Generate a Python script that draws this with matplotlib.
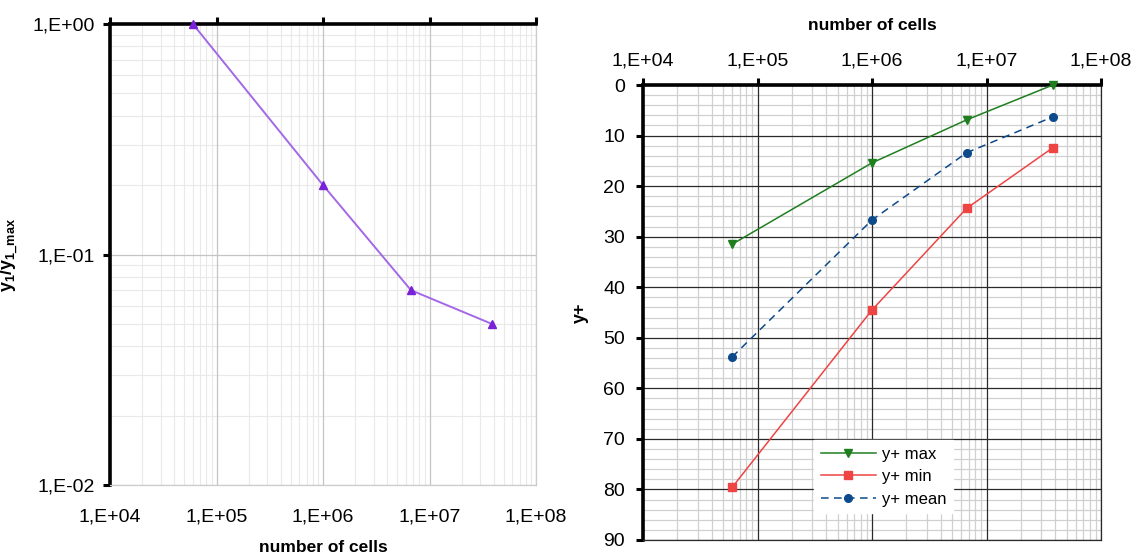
import numpy as np
import matplotlib
matplotlib.use("Agg")
import matplotlib.pyplot as plt
from matplotlib.ticker import LogLocator, FuncFormatter, MultipleLocator, NullFormatter

plt.rcParams["font.family"] = ["Liberation Sans", "DejaVu Sans"]
plt.rcParams["mathtext.fontset"] = "custom"
plt.rcParams["mathtext.bf"] = "Liberation Sans:bold"
plt.rcParams["mathtext.rm"] = "Liberation Sans"

# left panel: normalised first-cell height
cells_left = [6.0e4, 1.0e6, 6.7e6, 3.85e7]
y1_ratio = [1.0, 0.2, 0.07, 0.05]

# right panel: y+ values
cells_right = [6.0e4, 1.0e6, 6.7e6, 3.8e7]
yplus_max = [31.5, 15.4, 6.9, 0.0]
yplus_min = [79.6, 44.5, 24.4, 12.4]
yplus_mean = [53.8, 26.7, 13.4, 6.3]

_PURPLE_LINE = "#a468e6"
_PURPLE_MARK = "#7a22d8"
_GREEN = "#1f7f1f"
_RED = "#ee4444"
_BLUE = "#0d4a8c"


def excel_fmt(v, pos=None):
    if v <= 0:
        return ""
    return f"1,E{int(round(np.log10(v))):+03d}"


def major_grid(axis, color, lw):
    # major lines drawn on top of the minor grid so crossings stay solid
    for xv in axis.get_xticks():
        lo, hi = axis.get_xlim()
        if lo <= xv <= hi:
            axis.axvline(xv, color=color, linewidth=lw, zorder=1)
    for yv in axis.get_yticks():
        lo, hi = sorted(axis.get_ylim())
        if lo <= yv <= hi:
            axis.axhline(yv, color=color, linewidth=lw, zorder=1)


fig = plt.figure(figsize=(11.33, 5.57), dpi=100, facecolor="white")

# ── Left panel ─────────────────────────────────────────────────────────────
ax = fig.add_axes([110 / 1133, 72 / 557, 426 / 1133, 461 / 557])
ax.set_xscale("log")
ax.set_yscale("log")
ax.set_xlim(1e4, 1e8)
ax.set_ylim(1e-2, 1e0)

ax.xaxis.set_major_locator(LogLocator(base=10, numticks=10))
ax.xaxis.set_minor_locator(LogLocator(base=10, subs=np.arange(2, 10), numticks=50))
ax.yaxis.set_major_locator(LogLocator(base=10, numticks=10))
ax.yaxis.set_minor_locator(LogLocator(base=10, subs=np.arange(2, 10), numticks=50))
ax.xaxis.set_major_formatter(FuncFormatter(excel_fmt))
ax.yaxis.set_major_formatter(FuncFormatter(excel_fmt))
ax.xaxis.set_minor_formatter(NullFormatter())
ax.yaxis.set_minor_formatter(NullFormatter())

ax.grid(True, which="minor", color="#e9e9e9", linewidth=0.8)
ax.set_axisbelow(True)
major_grid(ax, "#c4c4c4", 0.9)

for side in ("left", "top"):
    ax.spines[side].set_linewidth(2.6)
    ax.spines[side].set_color("black")
for side in ("right", "bottom"):
    ax.spines[side].set_linewidth(0.9)
    ax.spines[side].set_color("#cccccc")

ax.tick_params(axis="x", which="major", top=True, bottom=False, labeltop=False,
               labelbottom=True, direction="out", length=5, width=2.2,
               labelsize=14, pad=12)
ax.tick_params(axis="y", which="major", left=True, direction="out", length=5,
               width=2.2, labelsize=14, pad=6)
ax.tick_params(which="minor", length=0)

ax.plot(cells_left, y1_ratio, color=_PURPLE_LINE, linewidth=1.4, zorder=3,
        marker="^", markersize=6, markerfacecolor=_PURPLE_MARK,
        markeredgecolor=_PURPLE_MARK, clip_on=False)

ax.set_xlabel("number of cells", fontsize=12.5, fontweight="bold", labelpad=10)
ax.set_ylabel(r"$\mathbf{y_1/y_{1\_max}}$", fontsize=13, labelpad=8)

# ── Right panel ────────────────────────────────────────────────────────────
ax2 = fig.add_axes([643 / 1133, 17 / 557, 458 / 1133, 455 / 557])
ax2.set_xscale("log")
ax2.set_xlim(1e4, 1e8)
ax2.set_ylim(90, 0)

ax2.xaxis.set_major_locator(LogLocator(base=10, numticks=10))
ax2.xaxis.set_minor_locator(LogLocator(base=10, subs=np.arange(2, 10), numticks=50))
ax2.xaxis.set_major_formatter(FuncFormatter(excel_fmt))
ax2.xaxis.set_minor_formatter(NullFormatter())
ax2.yaxis.set_major_locator(MultipleLocator(10))
ax2.yaxis.set_minor_locator(MultipleLocator(2))

ax2.grid(True, which="minor", color="#d0d0d0", linewidth=0.9)
ax2.set_axisbelow(True)
major_grid(ax2, "#2a2a2a", 0.9)

for side in ("left", "top"):
    ax2.spines[side].set_linewidth(2.6)
    ax2.spines[side].set_color("black")
for side in ("right", "bottom"):
    ax2.spines[side].set_linewidth(0.9)
    ax2.spines[side].set_color("#2a2a2a")

ax2.xaxis.set_ticks_position("top")
ax2.xaxis.set_label_position("top")
ax2.tick_params(axis="x", which="major", top=True, bottom=False, labeltop=True,
                labelbottom=False, direction="out", length=5, width=2.2,
                labelsize=14, pad=6)
ax2.tick_params(axis="y", which="major", direction="out", length=5, width=2.2,
                labelsize=14, pad=8)
ax2.tick_params(which="minor", length=0)

ax2.plot(cells_right, yplus_max, color=_GREEN, linewidth=1.1, marker="v",
         markersize=6, label="y+ max", zorder=3, clip_on=False)
ax2.plot(cells_right, yplus_min, color=_RED, linewidth=1.1, marker="s",
         markersize=5.5, label="y+ min", zorder=3, clip_on=False)
ax2.plot(cells_right, yplus_mean, color=_BLUE, linewidth=1.1, linestyle=(0, (5, 3.5)),
         marker="o", markersize=5.5, label="y+ mean", zorder=3, clip_on=False)

ax2.set_xlabel("number of cells", fontsize=12.5, fontweight="bold", labelpad=16)
ax2.set_ylabel("y+", fontsize=13, fontweight="bold", labelpad=10)

leg = ax2.legend(loc="lower left", bbox_to_anchor=(0.355, 0.04), fontsize=12,
                 frameon=True, fancybox=False, edgecolor="white", framealpha=1,
                 handlelength=3.3, borderpad=0.4, labelspacing=0.45,
                 handletextpad=0.4)
leg.set_zorder(5)

fig.savefig("out.png", dpi=100, facecolor="white")
plt.close(fig)
